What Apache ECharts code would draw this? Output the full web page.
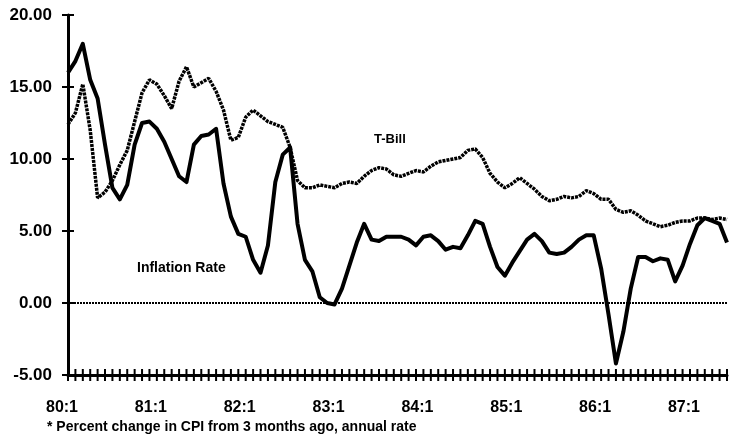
<!DOCTYPE html>
<html>
<head>
<meta charset="utf-8">
<script src="https://cdn.jsdelivr.net/npm/echarts@6/dist/echarts.min.js"></script>
<style>
  html, body { margin: 0; padding: 0; background: #fff; }
  #chart { width: 731px; height: 438px; }
</style>
</head>
<body>
<div id="chart"></div>
<script>
// months 80:1 .. 87:6
const years = ['80', '81', '82', '83', '84', '85', '86', '87'];
const nMonths = 90;
const months = [];
for (let i = 0; i < nMonths; i++) {
  months.push(years[Math.floor(i / 12)] + ':' + ((i % 12) + 1));
}

const yTicks = [-5, 0, 5, 10, 15, 20];

const inflation = [
  16.0, 16.8, 18.0, 15.5, 14.2, 11.0, 8.0, 7.2, 8.2, 11.0, 12.5, 12.6,
  12.1, 11.2, 10.0, 8.8, 8.4, 11.0, 11.6, 11.7, 12.1, 8.3, 6.0, 4.8,
  4.6, 3.0, 2.1, 4.0, 8.4, 10.3, 10.8, 5.5, 3.0, 2.2, 0.4, 0.0,
  -0.1, 1.0, 2.6, 4.2, 5.5, 4.4, 4.3, 4.6, 4.6, 4.6, 4.4, 4.0,
  4.6, 4.7, 4.3, 3.7, 3.9, 3.8, 4.7, 5.7, 5.5, 3.9, 2.5, 1.9,
  2.8, 3.6, 4.4, 4.8, 4.3, 3.5, 3.4, 3.5, 3.9, 4.4, 4.7, 4.7,
  2.4, -0.8, -4.2, -2.0, 1.0, 3.2, 3.2, 2.9, 3.1, 3.0, 1.5, 2.6,
  4.1, 5.4, 5.9, 5.7, 5.5, 4.2
];

const tbill = [
  12.4, 13.2, 15.2, 12.0, 7.3, 7.7, 8.5, 9.6, 10.6, 12.6, 14.6, 15.5,
  15.2, 14.4, 13.5, 15.4, 16.4, 15.0, 15.3, 15.6, 14.7, 13.4, 11.3, 11.5,
  12.9, 13.4, 13.0, 12.6, 12.4, 12.2, 10.8, 8.5, 8.0, 8.0, 8.2, 8.1,
  8.0, 8.3, 8.4, 8.3, 8.8, 9.2, 9.4, 9.3, 8.9, 8.8, 9.0, 9.2,
  9.1, 9.5, 9.8, 9.9, 10.0, 10.1, 10.6, 10.7, 10.1, 9.0, 8.4, 8.0,
  8.3, 8.7, 8.3, 7.9, 7.4, 7.1, 7.2, 7.4, 7.3, 7.4, 7.8, 7.6,
  7.2, 7.2, 6.5, 6.3, 6.4, 6.1, 5.7, 5.5, 5.3, 5.4, 5.6, 5.7,
  5.7, 5.9, 5.9, 5.8, 5.9, 5.8
];

const yMin = yTicks[0];
const yMax = yTicks[yTicks.length - 1];

const chart = echarts.init(document.getElementById('chart'));

const labelFont = { color: '#000', fontWeight: 'bold', fontFamily: 'Liberation Sans, Arial, sans-serif' };
const TICK = 6;

// crossing tick marks (the axis ticks only go one way)
function xTick(params, api) {
  const p = api.coord([api.value(0), yMin]);
  return {
    type: 'line',
    shape: { x1: p[0], y1: p[1] - TICK, x2: p[0], y2: p[1] + TICK },
    style: { stroke: '#000', lineWidth: 2 }
  };
}
function yTick(params, api) {
  const p = api.coord([0, api.value(0)]);
  return {
    type: 'line',
    shape: { x1: p[0] - TICK, y1: p[1], x2: p[0] + TICK, y2: p[1] },
    style: { stroke: '#000', lineWidth: 2 }
  };
}

chart.setOption({
  animation: false,
  grid: { left: 68, right: 4, top: 15, bottom: 63 },
  xAxis: {
    type: 'category',
    data: months,
    boundaryGap: false,
    axisLine: { onZero: false, lineStyle: { color: '#000', width: 3 } },
    axisTick: { show: false },
    axisLabel: {
      interval: 11,
      margin: 25,
      fontSize: 16,
      padding: [0, 12, 0, 0],
      ...labelFont
    },
    splitLine: { show: false }
  },
  yAxis: {
    type: 'value',
    min: yMin,
    max: yMax,
    interval: 5,
    axisLine: { show: true, onZero: false, lineStyle: { color: '#000', width: 3 } },
    axisTick: { show: false },
    axisLabel: {
      margin: 16,
      fontSize: 17,
      formatter: v => v.toFixed(2),
      ...labelFont
    },
    splitLine: { show: false }
  },
  series: [
    {
      name: 'T-Bill',
      type: 'line',
      data: tbill,
      symbol: 'none',
      lineStyle: { color: '#000', width: 3.5, type: [3, 1] },
      markLine: {
        silent: true,
        symbol: 'none',
        label: { show: false },
        lineStyle: { color: '#000', width: 2, type: [2, 1] },
        data: [{ yAxis: 0 }]
      },
      z: 2
    },
    {
      name: 'Inflation Rate',
      type: 'line',
      data: inflation,
      symbol: 'none',
      lineStyle: { color: '#000', width: 4, join: 'round' },
      z: 3
    },
    {
      type: 'custom',
      silent: true,
      clip: false,
      renderItem: xTick,
      data: months.map((m, i) => [i]),
      z: 4
    },
    {
      type: 'custom',
      silent: true,
      clip: false,
      renderItem: yTick,
      data: yTicks.map(v => [v]),
      z: 4
    }
  ],
  graphic: [
    {
      type: 'text', left: 374, top: 133,
      style: { text: 'T-Bill', fontSize: 13, fontWeight: 'bold', fontFamily: 'Liberation Sans Narrow, Arial Narrow, sans-serif', fill: '#000' }
    },
    {
      type: 'text', left: 137, top: 261,
      style: { text: 'Inflation Rate', fontSize: 14, fontWeight: 'bold', fontFamily: 'Liberation Sans Narrow, Arial Narrow, sans-serif', fill: '#000' }
    },
    {
      type: 'text', left: 47, top: 420,
      style: { text: '* Percent change in CPI from 3 months ago, annual rate', fontSize: 14, fontWeight: 'bold', fontFamily: 'Liberation Sans Narrow, Arial Narrow, sans-serif', fill: '#000' }
    }
  ]
});
</script>
</body>
</html>
